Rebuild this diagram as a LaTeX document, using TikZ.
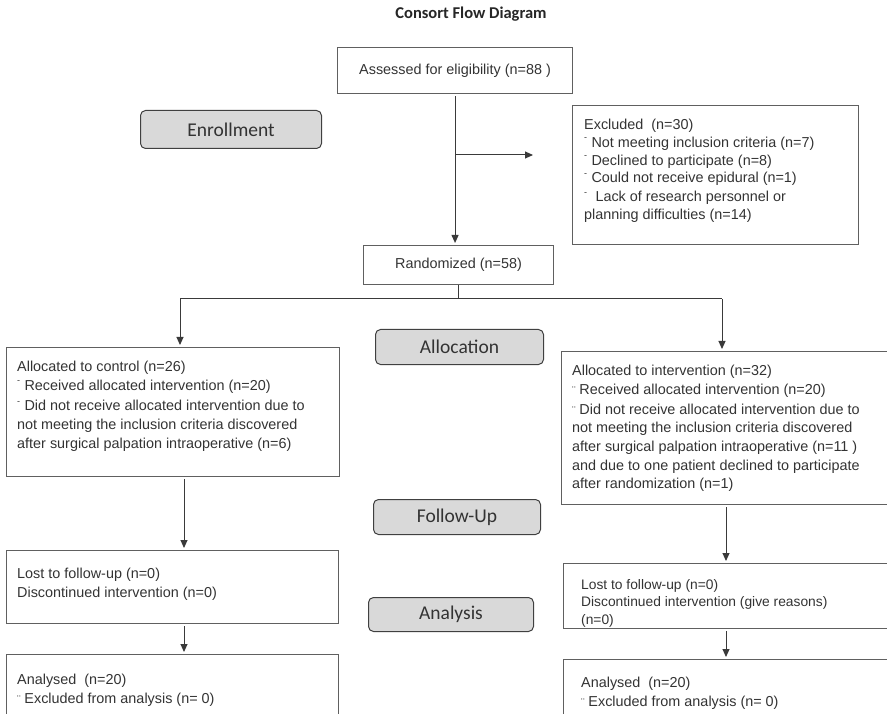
\documentclass[tikz,border=0pt]{standalone}
\usepackage{fontspec}
\setmainfont{Liberation Sans}
\newfontfamily\calfont{Carlito}
\usetikzlibrary{arrows.meta,calc}
\definecolor{txt}{HTML}{333333}
\definecolor{lnc}{HTML}{3A3A3A}
\definecolor{bd}{HTML}{606060}
\definecolor{gfill}{HTML}{D9D9D9}
\newcommand\bdash{\raisebox{0.45em}{\fontsize{9}{9}\selectfont -}\hspace{0.3em}}
\newcommand\bdots{{\fontsize{11}{11}\selectfont ¨}\hspace{0.25em}}
\begin{document}
\begin{tikzpicture}[x=1pt,y=-1pt,
 box/.style={draw=bd,line width=1.1pt,anchor=north west,inner sep=0pt,text=txt,font=\fontsize{14.4}{18.6}\selectfont},
 tbox/.style={anchor=north west,inner sep=0pt,align=left,text=txt,font=\fontsize{14.4}{18.6}\selectfont},
 phase/.style={draw=black!75,fill=gfill,rounded corners=5pt,line width=1pt,inner sep=0pt,anchor=north west,text=black!80,font=\calfont\fontsize{19.5}{20}\selectfont},
 arr/.style={draw=lnc,line width=1pt,-{Triangle[length=8pt,width=7pt]},shorten >=2pt},
 lnk/.style={draw=lnc,line width=1pt}]
\useasboundingbox (0,0) rectangle (887,714);
\clip (0,0) rectangle (887,714);

% title
\node[font=\calfont\bfseries\fontsize{16.5}{18}\selectfont,text=black!85] (title) at (471,14) {Consort Flow Diagram};

% boxes
\node[box,minimum width=235pt,minimum height=46pt] (A) at (337,47) {Assessed for eligibility (n=88 )};
\node[box,minimum width=286pt,minimum height=139pt] (E) at (572,105) {};
\node[tbox,font=\fontsize{14.4}{17.7}\selectfont] (Et) at (584,119) {Excluded\ \ (n=30)\\
\bdash Not meeting inclusion criteria (n=7)\\
\bdash Declined to participate (n=8)\\
\bdash Could not receive epidural (n=1)\\[1.5pt]
\bdash\ Lack of research personnel or\\
planning difficulties (n=14)};

\node[phase,minimum width=181pt,minimum height=38pt] (enr) at (140,110) {Enrollment};

\node[box,minimum width=190pt,minimum height=39pt] (R) at (363,245) {Randomized (n=58)};

\node[phase,minimum width=168pt,minimum height=35pt] (alloc) at (375,329) {Allocation};

\node[box,minimum width=333pt,minimum height=129pt] (C) at (6,347) {};
\node[tbox] (Ct) at (17,361) {Allocated to control (n=26)\\
\bdash Received allocated intervention (n=20)\\[2pt]
\bdash Did not receive allocated intervention due to\\
not meeting the inclusion criteria discovered\\
after surgical palpation intraoperative (n=6)};

\node[box,minimum width=340pt,minimum height=153pt] (I) at (561,351) {};
\node[tbox] (It) at (572,365) {Allocated to intervention (n=32)\\
\bdots Received allocated intervention (n=20)\\[1.5pt]
\bdots Did not receive allocated intervention due to\\
not meeting the inclusion criteria discovered\\
after surgical palpation intraoperative (n=11 )\\
and due to one patient declined to participate\\
after randomization (n=1)};

\node[phase,minimum width=167pt,minimum height=35pt] (fu) at (373,499) {Follow-Up};

\node[box,minimum width=332pt,minimum height=73pt] (L1) at (6,550) {};
\node[tbox] (L1t) at (17,568) {Lost to follow-up (n=0)\\
Discontinued intervention (n=0)};

\node[box,minimum width=340pt,minimum height=65pt] (R1) at (563,563) {};
\node[tbox,font=\fontsize{13.8}{17.5}\selectfont] (R1t) at (581,579) {Lost to follow-up (n=0)\\
Discontinued intervention (give reasons)\\
(n=0)};

\node[phase,minimum width=165pt,minimum height=34pt] (ana) at (368,597) {Analysis};

\node[box,minimum width=332pt,minimum height=80pt] (L2) at (6,654) {};
\node[tbox] (L2t) at (17,674) {Analysed\ \ (n=20)\\
\bdots Excluded from analysis (n= 0)};

\node[box,minimum width=340pt,minimum height=70pt] (R2) at (563,659) {};
\node[tbox] (R2t) at (581,677) {Analysed\ \ (n=20)\\
\bdots Excluded from analysis (n= 0)};

% connectors
\draw[arr,shorten <=2pt] (A.south) -- (A.south |- R.north);
\coordinate (b1) at (A.south |- 0,155);
\coordinate (b2) at (533,155);
\draw[arr,shorten >=0pt] (b1) -- (b2);

\coordinate (sL) at (180,299);
\coordinate (sR) at (722,299);
\coordinate (sM) at (R.south |- sL);
\draw[lnk] (R.south) -- (sM);
\draw[lnk] (sL) -- (sR);
\draw[arr] (sL) -- (sL |- C.north);
\draw[arr] (sR) -- (sR |- I.north);

\coordinate (cl) at (184,0);
\coordinate (cr) at (726,0);
\draw[arr,shorten <=2pt] (C.south -| cl) -- (L1.north -| cl);
\draw[arr,shorten <=2pt] (L1.south -| cl) -- (L2.north -| cl);
\draw[arr,shorten <=2pt] (I.south -| cr) -- (R1.north -| cr);
\draw[arr,shorten <=2pt] (R1.south -| cr) -- (R2.north -| cr);
\end{tikzpicture}
\end{document}
